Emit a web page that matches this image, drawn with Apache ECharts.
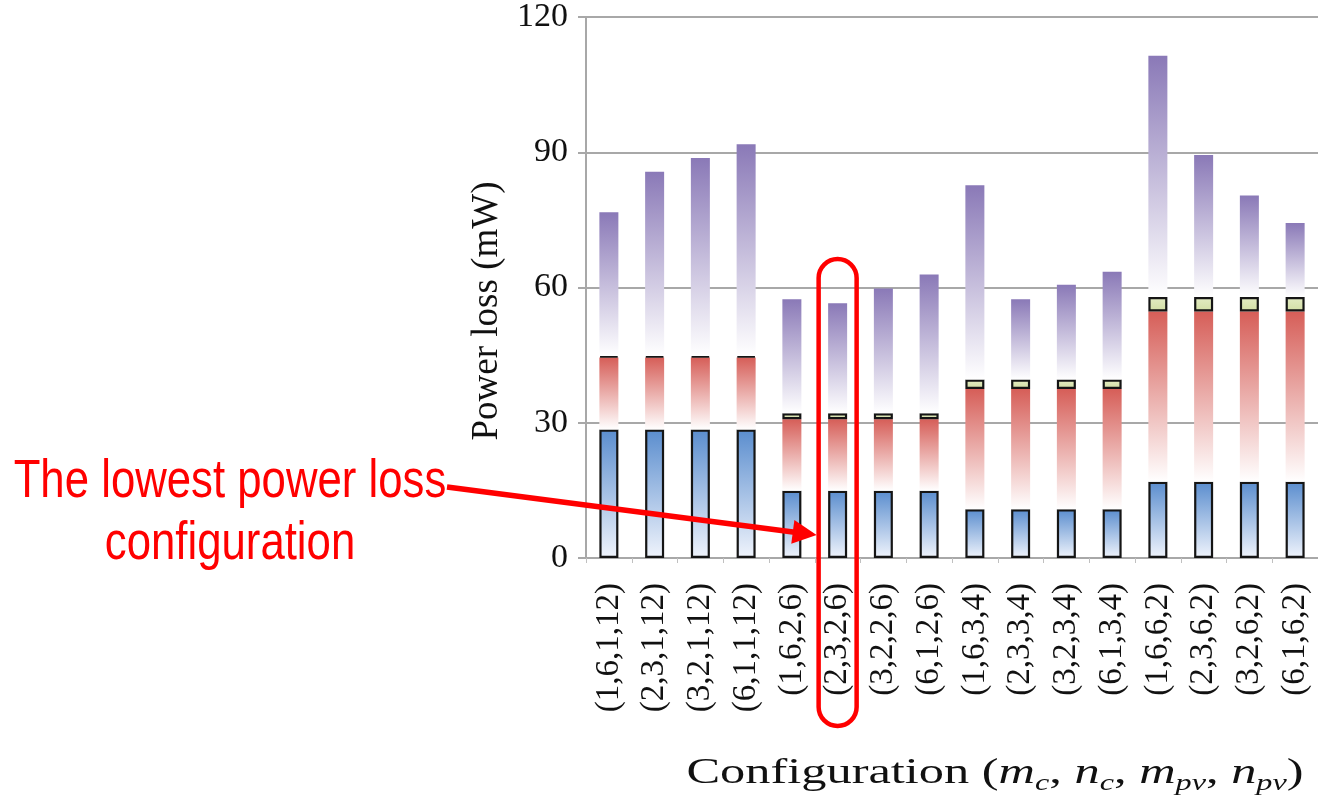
<!DOCTYPE html>
<html><head><meta charset="utf-8">
<script src="https://cdn.jsdelivr.net/npm/echarts@6/dist/echarts.min.js"></script>
<style>html,body{margin:0;padding:0;background:#fff}#c{width:1318px;height:798px}</style>
</head><body><div id="c"></div>
<script>
// ---- data ----
const categories = ['(1,6,1,12)','(2,3,1,12)','(3,2,1,12)','(6,1,1,12)',
  '(1,6,2,6)','(2,3,2,6)','(3,2,2,6)','(6,1,2,6)',
  '(1,6,3,4)','(2,3,3,4)','(3,2,3,4)','(6,1,3,4)',
  '(1,6,6,2)','(2,3,6,2)','(3,2,6,2)','(6,1,6,2)'];
const blueLoss   = [28.5,28.5,28.5,28.5, 14.9,14.9,14.9,14.9, 10.8,10.8,10.8,10.8, 16.9,16.9,16.9,16.9];
const redLoss    = [16.0,16.0,16.0,16.0, 15.9,15.9,15.9,15.9, 26.7,26.7,26.7,26.7, 37.8,37.8,37.8,37.8];
const greenLoss  = [0.3,0.3,0.3,0.3, 1.3,1.3,1.3,1.3, 2.1,2.1,2.1,2.1, 3.2,3.2,3.2,3.2];
const purpleLoss = [31.9,40.9,43.9,47.0, 25.3,24.4,27.7,30.8, 43.1,17.8,21.0,23.9, 53.5,31.5,22.5,16.4];
const yMin = 0, yMax = 120, yStep = 30;
const yAxisTitle = 'Power loss (mW)';
const highlightIndex = 5;
const annotationText = 'The lowest power loss\nconfiguration';

// ---- chart ----
const serif = '"Liberation Serif", "Times New Roman", serif';
function grad(top, bottom) {
  return {type:'linear', x:0, y:0, x2:0, y2:1,
    colorStops:[{offset:0, color:top},{offset:1, color:bottom}]};
}
const chart = echarts.init(document.getElementById('c'), null, {renderer:'canvas'});
const barW = 19;
const option = {
  animation: false,
  backgroundColor: '#ffffff',
  grid: {left: 586, right: -10, top: 15, bottom: 240, containLabel: false},
  xAxis: {
    type: 'category', data: categories,
    axisLine: {show: true, lineStyle: {color: '#a8a8a8', width: 2}},
    axisTick: {show: true, length: 5, lineStyle: {color: '#c0c0c0', width: 1}},
    axisLabel: {rotate: 90, interval: 0, fontFamily: serif, fontSize: 33, color: '#111', margin: 25}
  },
  yAxis: {
    type: 'value', min: yMin, max: yMax, interval: yStep,
    axisLine: {show: true, lineStyle: {color: '#a8a8a8', width: 2}},
    axisTick: {show: true, length: 8, lineStyle: {color: '#a8a8a8', width: 2}},
    splitLine: {show: true, lineStyle: {color: '#a8a8a8', width: 2}},
    axisLabel: {fontFamily: serif, fontSize: 34, color: '#111', margin: 18},
    name: yAxisTitle, nameLocation: 'middle', nameRotate: 90, nameGap: 80,
    nameTextStyle: {fontFamily: serif, fontSize: 37, color: '#111', padding: [0, 47, 0, 0]}
  },
  series: [
    {name: 'Blue loss', type: 'bar', stack: 'total', data: blueLoss, barWidth: barW,
     itemStyle: {color: grad('#5a8dce', '#f0f4fc'), borderColor: '#151515', borderWidth: 2.2}},
    {name: 'Red loss', type: 'bar', stack: 'total', data: redLoss, barWidth: barW,
     itemStyle: {color: grad('#d65e58', '#ffffff'), borderWidth: 0}},
    {name: 'Green loss', type: 'bar', stack: 'total', data: greenLoss, barWidth: barW,
     itemStyle: {color: grad('#e4ecc4', '#d2dea4'), borderColor: '#151515', borderWidth: 2.2}},
    {name: 'Purple loss', type: 'bar', stack: 'total', data: purpleLoss, barWidth: barW,
     itemStyle: {color: grad('#8a79b7', '#ffffff'), borderWidth: 0}}
  ]
};
chart.setOption(option);

// ---- annotation (positioned from the axes) ----
const cx = chart.convertToPixel({xAxisIndex: 0}, categories[highlightIndex]);
const y0 = chart.convertToPixel({yAxisIndex: 0}, 0);
const rectW = 38, rectTop = y0 - 299, rectBottom = y0 + 168;
const tip = [cx - rectW / 2 - 2, y0 - 23];
const start = [447, y0 - 71];
const dx = tip[0] - start[0], dy = tip[1] - start[1];
const len = Math.sqrt(dx * dx + dy * dy), ux = dx / len, uy = dy / len;
const headL = 24, headW = 12;
const base = [tip[0] - headL * ux, tip[1] - headL * uy];
chart.setOption({
  graphic: [
    // x axis title
    {type: 'text', z: 50, x: 995, y: y0 + 237, scaleX: 1.4,
     style: {
      text: '{t|Configuration (}{i|m}{s|c}{t|, }{i|n}{s|c}{t|, }{i|m}{s|pv}{t|, }{i|n}{s|pv}{t|)}',
      x: 0, y: 0, align: 'center', verticalAlign: 'bottom',
      rich: {
        t: {fontFamily: serif, fontSize: 36, fill: '#111', lineHeight: 42, verticalAlign: 'middle'},
        i: {fontFamily: serif, fontStyle: 'italic', fontSize: 36, fill: '#111', lineHeight: 42, verticalAlign: 'middle'},
        s: {fontFamily: serif, fontStyle: 'italic', fontSize: 23, fill: '#111', lineHeight: 23, verticalAlign: 'bottom'}
      }}},
    {type: 'rect', z: 100, shape: {x: cx - rectW / 2, y: rectTop, width: rectW, height: rectBottom - rectTop, r: rectW / 2},
     style: {fill: 'none', stroke: '#ff0000', lineWidth: 4.5}},
    {type: 'line', z: 100, shape: {x1: start[0], y1: start[1], x2: base[0] + ux * 2, y2: base[1] + uy * 2},
     style: {stroke: '#ff0000', lineWidth: 5.5}},
    {type: 'polygon', z: 100, shape: {points: [tip,
      [base[0] - headW * uy, base[1] + headW * ux],
      [base[0] + headW * uy, base[1] - headW * ux]]},
     style: {fill: '#ff0000'}},
    {type: 'text', z: 100, x: 230, y: 451, scaleX: 0.81,
     style: {text: annotationText, x: 0, y: 0, align: 'center', verticalAlign: 'top',
      font: '54px "Liberation Sans", Arial, sans-serif', fill: '#ff0000', lineHeight: 62}}
  ]
});
</script>
</body></html>
